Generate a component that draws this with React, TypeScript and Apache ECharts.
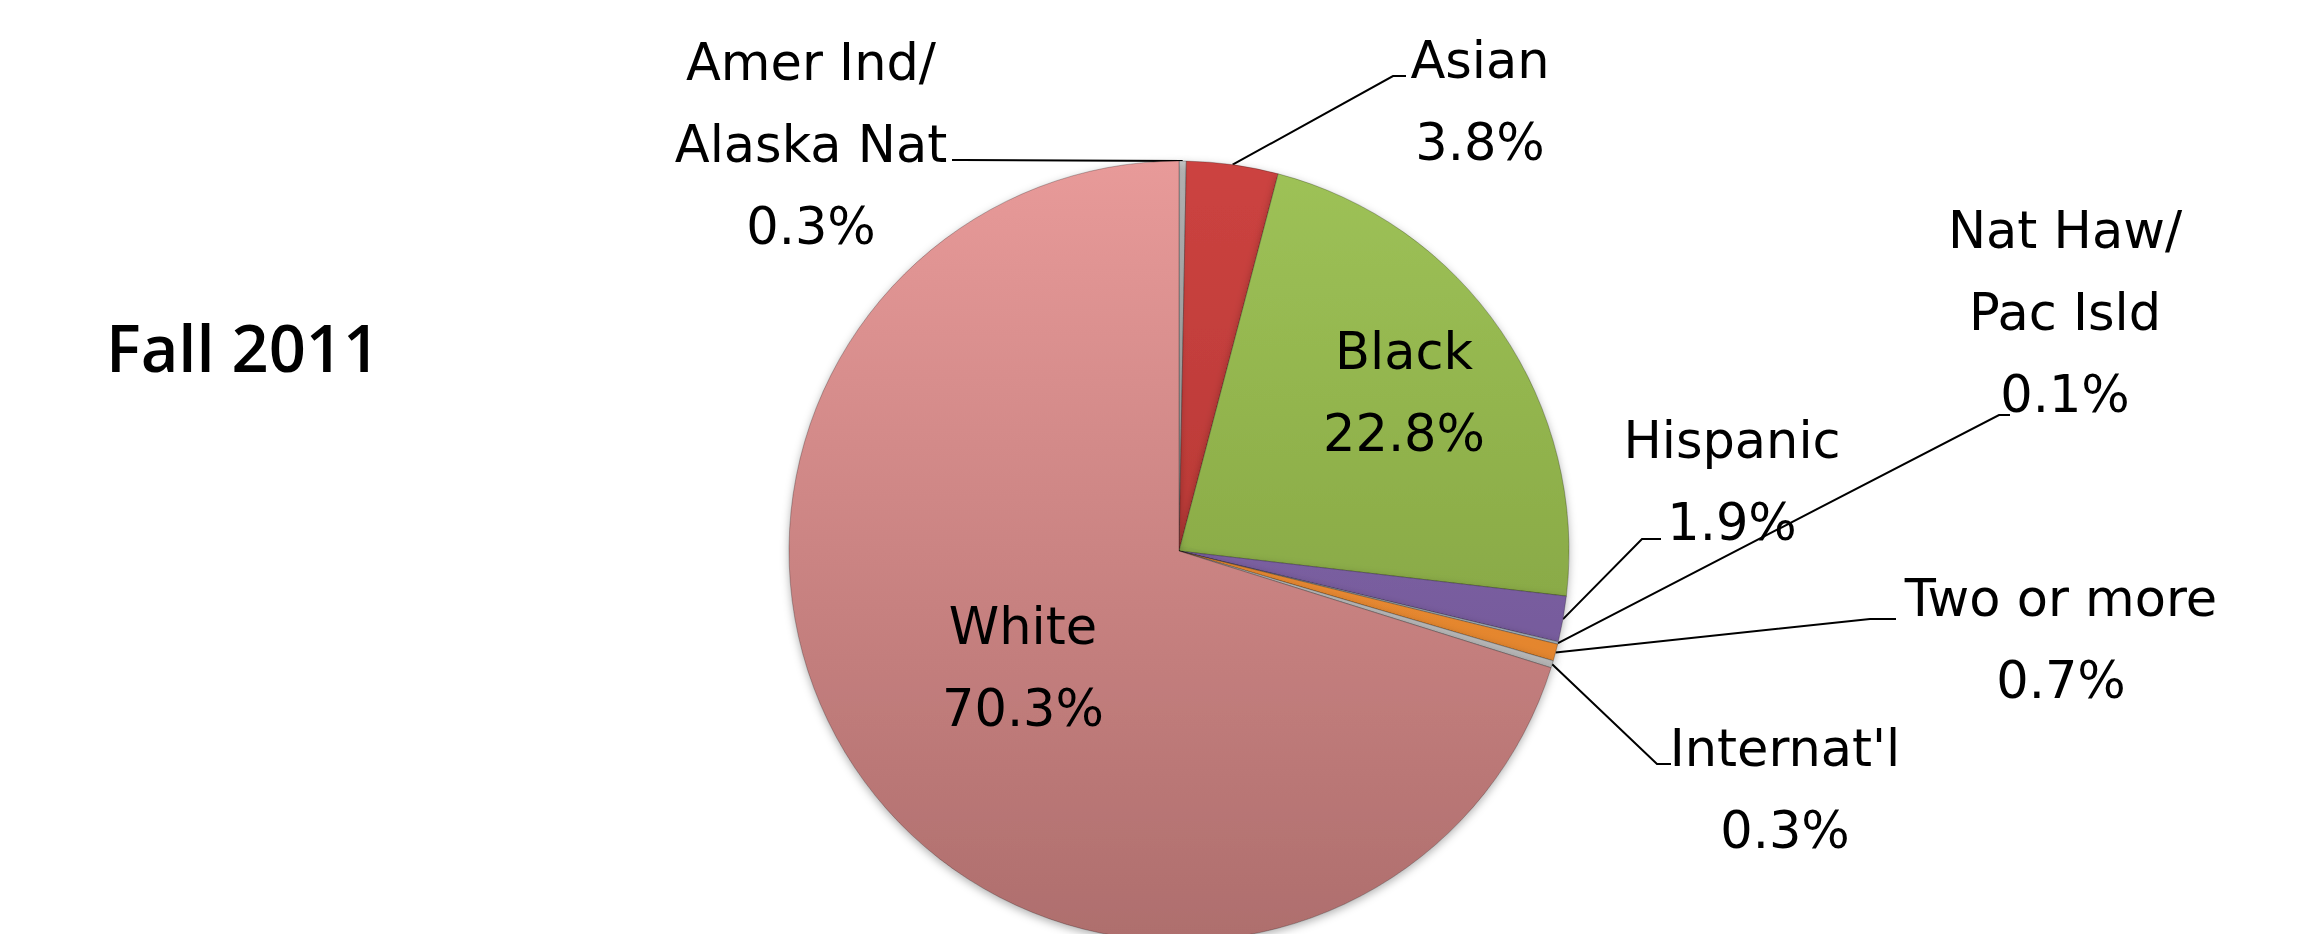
import React, { useEffect, useRef } from "react";
import * as echarts from "echarts";

// ---- data ----
const categories = [
  "Amer Ind/\nAlaska Nat",
  "Asian",
  "Black",
  "Hispanic",
  "Nat Haw/\nPac Isld",
  "Two or more",
  "Internat'l",
  "White",
];
const percentages = [0.3, 3.8, 22.8, 1.9, 0.1, 0.7, 0.3, 70.3];
const chartTitle = "Fall 2011";

// ---- styles (top colour, bottom colour) ----
const sliceColors: [string, string][] = [
  ["#CACACA", "#A9A9A9"],
  ["#CC4340", "#A8302E"],
  ["#9EC257", "#7A983A"],
  ["#8A6DB0", "#6A5090"],
  ["#B8C6D0", "#98A6B0"],
  ["#F6993F", "#D97A24"],
  ["#C8C8C8", "#ABABAB"],
  ["#E89A99", "#AE6E6D"],
];

// label placement (layout only)
type Spot = { x: number; y: number; elbow?: [number, number]; end?: [number, number]; inner?: boolean };
const labelSpots: Spot[] = [
  { x: 811, y: 144, elbow: [962, 160], end: [952, 160] },
  { x: 1480, y: 101, elbow: [1393, 76], end: [1406, 76] },
  { x: 1404, y: 392, inner: true },
  { x: 1732, y: 481, elbow: [1642, 539], end: [1661, 539] },
  { x: 2065, y: 312, elbow: [1999, 415], end: [2010, 415] },
  { x: 2061, y: 639, elbow: [1870, 619], end: [1896, 619] },
  { x: 1785, y: 789, elbow: [1657, 764], end: [1671, 764] },
  { x: 1023, y: 667, inner: true },
];

const FONT = "'DejaVu Sans', 'Liberation Sans', sans-serif";

export default function App() {
  const ref = useRef<HTMLDivElement>(null);
  useEffect(() => {
    document.body.style.margin = "0";
    if (!ref.current) return;
    const chart = echarts.init(ref.current, null, { renderer: "svg" });
    const data = categories.map((name, i) => ({
      name,
      value: percentages[i],
      itemStyle: {
        color: new echarts.graphic.LinearGradient(
          0, 161, 0, 941,
          [
            { offset: 0, color: sliceColors[i][0] },
            { offset: 1, color: sliceColors[i][1] },
          ],
          true
        ),
      },
      label: labelSpots[i].inner ? { position: "inner" as const } : { position: "outside" as const },
      labelLine: { show: !labelSpots[i].inner },
    }));
    chart.setOption({
      animation: false,
      backgroundColor: "#ffffff",
      graphic: [
        {
          type: "text",
          x: 106,
          y: 347,
          style: {
            text: chartTitle,
            fontSize: 65,
            fontWeight: 600,
            fontFamily: "'Open Sans', 'DejaVu Sans', sans-serif",
            fill: "#000",
            align: "left",
            verticalAlign: "middle",
          },
        },
      ],
      series: [
        {
          type: "pie",
          center: [1179, 551],
          radius: 390,
          startAngle: 90,
          clockwise: true,
          avoidLabelOverlap: false,
          minShowLabelAngle: 0,
          itemStyle: {
            borderColor: "rgba(0,0,0,0.25)",
            borderWidth: 1,
            shadowBlur: 8,
            shadowOffsetY: 3,
            shadowColor: "rgba(0,0,0,0.3)",
          },
          label: {
            show: true,
            formatter: "{b}\n{c}%",
            fontFamily: FONT,
            fontSize: 51,
            lineHeight: 82,
            color: "#000",
          },
          labelLine: {
            show: true,
            lineStyle: { color: "#000", width: 2 },
          },
          labelLayout: (params: any) => {
            const s = labelSpots[params.dataIndex];
            const out: any = { x: s.x, y: s.y, align: "center", verticalAlign: "middle" };
            const pts = params.labelLinePoints;
            if (!s.inner && pts && pts[0] && s.elbow && s.end) {
              out.labelLinePoints = [[pts[0][0], pts[0][1]], s.elbow, s.end];
            }
            return out;
          },
          emphasis: { disabled: true },
          data,
        },
      ],
    });
    return () => chart.dispose();
  }, []);
  return <div ref={ref} style={{ width: 2305, height: 934 }} />;
}
